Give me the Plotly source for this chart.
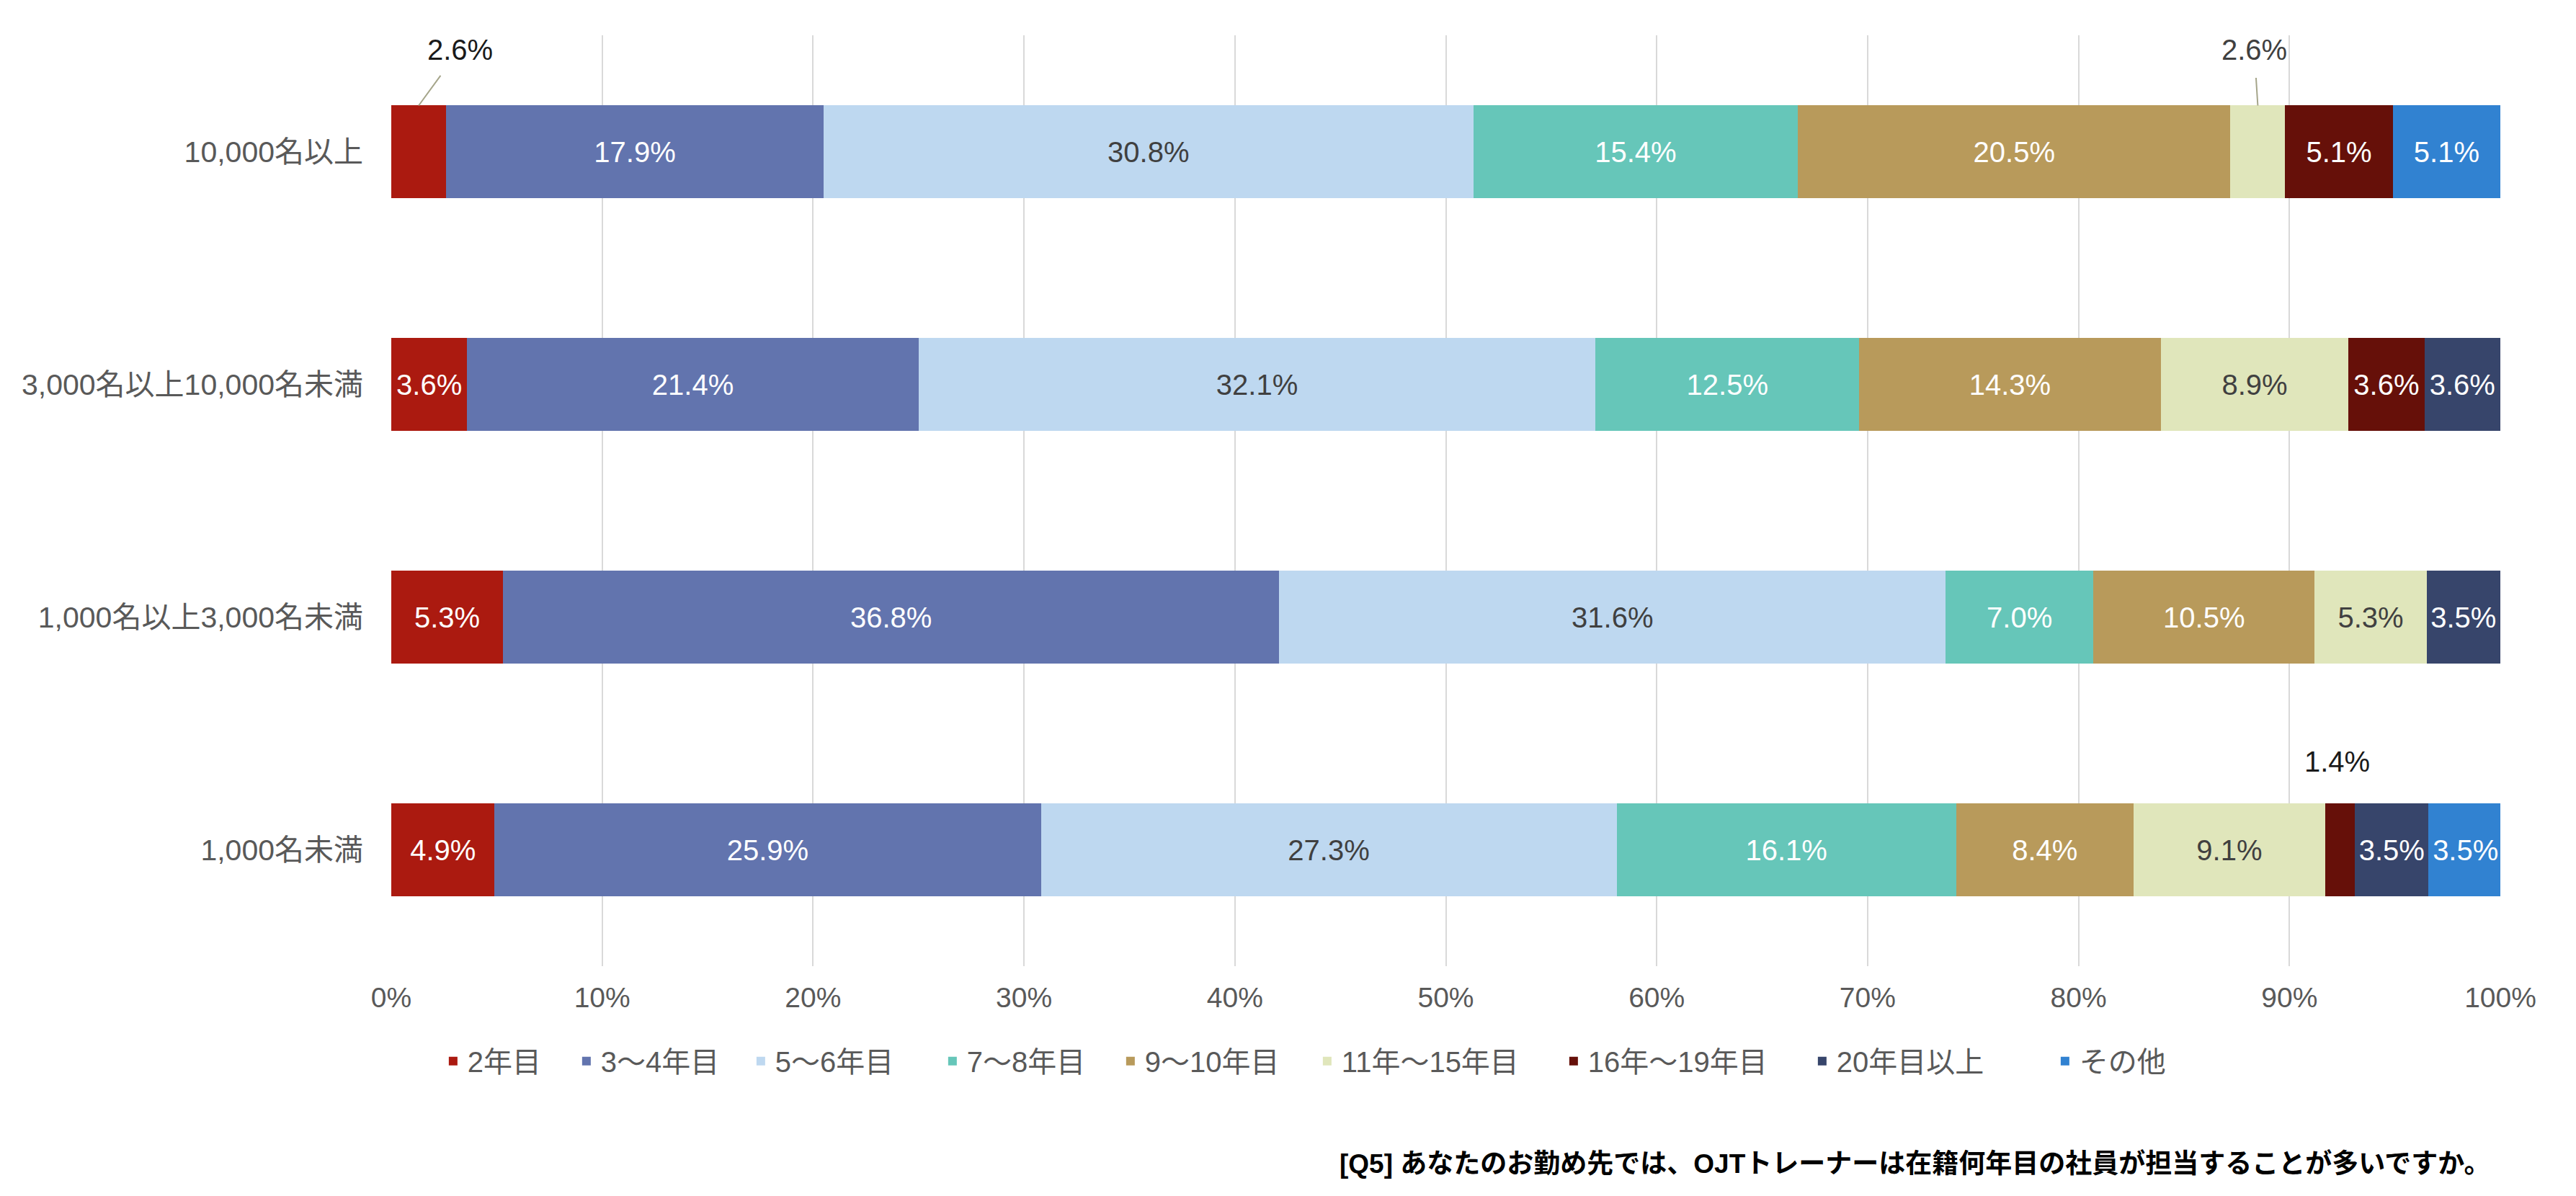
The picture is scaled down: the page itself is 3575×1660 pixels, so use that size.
import plotly.graph_objects as go

categories = ["10,000名以上", "3,000名以上10,000名未満", "1,000名以上3,000名未満", "1,000名未満"]
series_names = ["2年目", "3～4年目", "5～6年目", "7～8年目", "9～10年目", "11年～15年目", "16年～19年目", "20年目以上", "その他"]

s_2 = [2.6, 3.6, 5.3, 4.9]
s_3_4 = [17.9, 21.4, 36.8, 25.9]
s_5_6 = [30.8, 32.1, 31.6, 27.3]
s_7_8 = [15.4, 12.5, 7.0, 16.1]
s_9_10 = [20.5, 14.3, 10.5, 8.4]
s_11_15 = [2.6, 8.9, 5.3, 9.1]
s_16_19 = [5.1, 3.6, 0.0, 1.4]
s_20 = [0.0, 3.6, 3.5, 3.5]
s_other = [5.1, 0.0, 0.0, 3.5]

series_values = [s_2, s_3_4, s_5_6, s_7_8, s_9_10, s_11_15, s_16_19, s_20, s_other]
colors = ["#AB1A10", "#6274AE", "#BED8F0", "#66C6B9", "#B89A5B", "#E0E6BB", "#661009", "#37456B", "#3182D1"]
text_colors = ["white", "white", "#404040", "white", "white", "#404040", "white", "white", "white"]
legend_widths = [140, 197, 221, 202, 228, 297, 300, 292, None]

tick_vals = list(range(0, 101, 10))
tick_text = [f"{v}%" for v in tick_vals]

FONT = "Liberation Sans, Noto Sans CJK JP, sans-serif"
SMALL = 3.0  # segments below this get an outside label

fig = go.Figure()
for name, vals, col, tcol, lw in zip(series_names, series_values, colors, text_colors, legend_widths):
    texts = [f"{v:.1f}%" if v >= SMALL else "" for v in vals]
    fig.add_trace(go.Bar(
        y=categories, x=vals, name=name, orientation="h",
        marker=dict(color=col, line=dict(width=0)),
        text=texts, textposition="inside", insidetextanchor="middle",
        textangle=0, constraintext="none",
        insidetextfont=dict(family=FONT, size=40, color=tcol),
        legendwidth=lw,
        hoverinfo="skip",
    ))

# outside labels for small segments (positions derived from data)
outside = {  # (row, series) -> (ax px, ay px, leader, text colour)
    (0, 0): (57, -78, True, "#1a1a1a"),
    (0, 5): (-5, -78, True, "#404040"),
    (3, 6): (-4, -123, False, "#1a1a1a"),
}
for (ri, si), (ax, ay, leader, tc) in outside.items():
    left = sum(series_values[k][ri] for k in range(si))
    v = series_values[si][ri]
    fig.add_annotation(
        x=left + v / 2, y=categories[ri], xref="x", yref="y",
        yshift=64 if leader else 0,
        text=f"{v:.1f}%", showarrow=True, ax=ax, ay=ay,
        arrowhead=0, arrowwidth=2,
        arrowcolor="#A5A58A" if leader else "rgba(0,0,0,0)",
        startstandoff=16 if leader else 0,
        font=dict(family=FONT, size=40, color=tc),
    )

fig.add_annotation(
    x=0.996, y=-0.2125, xref="paper", yref="paper",
    xanchor="right", yanchor="middle", showarrow=False,
    text="<b>[Q5] あなたのお勤め先では、OJTトレーナーは在籍何年目の社員が担当することが多いですか。</b>",
    font=dict(family=FONT, size=37, color="#000000"),
)

fig.update_layout(
    width=3575, height=1660,
    margin=dict(l=535, r=113, t=41, b=327),
    barmode="stack", bargap=0.6,
    paper_bgcolor="white", plot_bgcolor="white",
    font=dict(family=FONT, size=40, color="#595959"),
    showlegend=True,
    legend=dict(orientation="h", x=0.0225, xanchor="left", y=-0.102, yanchor="middle",
                font=dict(family=FONT, size=40, color="#595959"),
                traceorder="normal", itemwidth=30, tracegroupgap=0),
    xaxis=dict(range=[0, 100], tickvals=tick_vals, ticktext=tick_text,
               showgrid=True, gridcolor="#D9D9D9", gridwidth=2,
               zeroline=False, showline=False, ticks="",
               ticklabelstandoff=17,
               tickfont=dict(family=FONT, size=39, color="#595959")),
    yaxis=dict(categoryorder="array", categoryarray=categories, autorange="reversed",
               showgrid=False, zeroline=False, showline=False, ticks="",
               ticklabelstandoff=38,
               tickfont=dict(family=FONT, size=41, color="#595959")),
)

fig.write_html("out.html")
